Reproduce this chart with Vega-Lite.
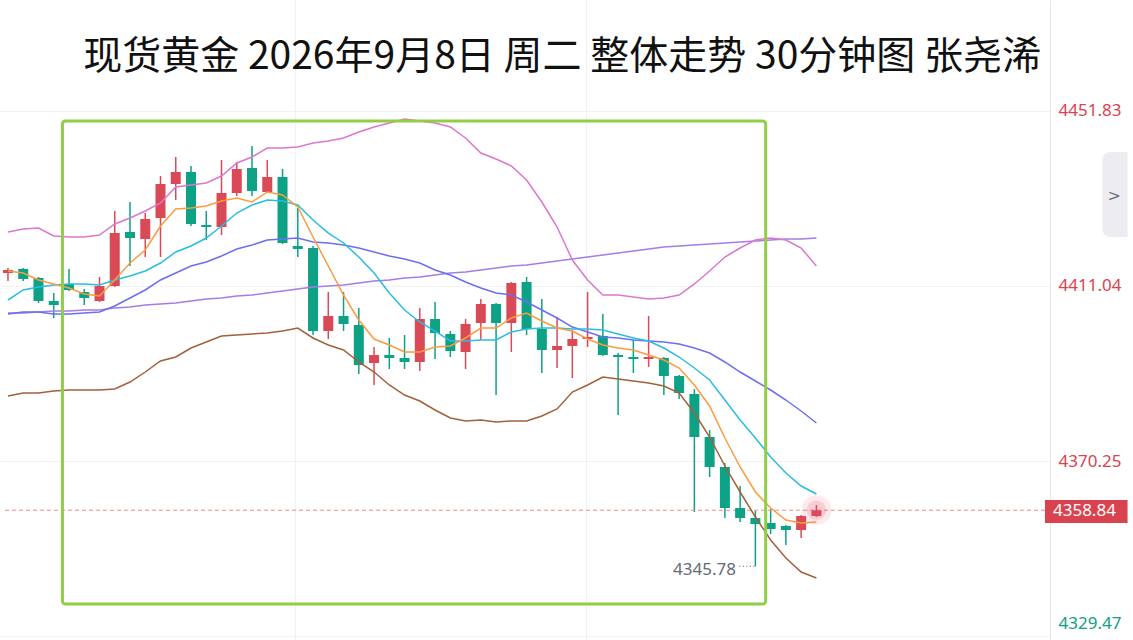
{
  "$schema": "https://vega.github.io/schema/vega-lite/v6.json",
  "width": 1050,
  "height": 640,
  "autosize": {"type": "none"},
  "padding": {"left": 0, "top": 0, "right": 83, "bottom": 0},
  "background": "#ffffff",
  "config": {"view": {"stroke": null}, "axis": {"labelFont": "Noto Sans"}},
  "datasets": {
    "k": [
      {"i":0,"o":4414.06,"h":4415.23,"l":4412.21,"c":4414.76,"m5":4414.53,"m10":4407.78,"m30":4404.52,"m60":4404.75,"up":4423.61,"dn":4385.43},
      {"i":1,"o":4414.99,"h":4415.23,"l":4412.21,"c":4412.67,"m5":4414.06,"m10":4410.11,"m30":4404.99,"m60":4404.75,"up":4424.31,"dn":4386.13},
      {"i":2,"o":4412.90,"h":4413.14,"l":4407.08,"c":4407.55,"m5":4412.44,"m10":4410.81,"m30":4404.99,"m60":4404.99,"up":4424.54,"dn":4386.13},
      {"i":3,"o":4407.55,"h":4409.41,"l":4403.59,"c":4406.62,"m5":4411.51,"m10":4411.27,"m30":4404.52,"m60":4405.22,"up":4422.68,"dn":4386.60},
      {"i":4,"o":4411.51,"h":4414.99,"l":4409.88,"c":4410.11,"m5":4410.58,"m10":4411.51,"m30":4404.52,"m60":4405.22,"up":4422.44,"dn":4386.83},
      {"i":5,"o":4409.64,"h":4410.34,"l":4406.62,"c":4408.24,"m5":4409.18,"m10":4411.51,"m30":4404.75,"m60":4405.45,"up":4422.44,"dn":4386.83},
      {"i":6,"o":4407.55,"h":4413.14,"l":4407.31,"c":4411.04,"m5":4408.71,"m10":4411.27,"m30":4404.99,"m60":4405.45,"up":4422.91,"dn":4386.83},
      {"i":7,"o":4411.04,"h":4428.50,"l":4410.81,"c":4423.37,"m5":4412.44,"m10":4412.44,"m30":4406.38,"m60":4405.92,"up":4425.47,"dn":4387.06},
      {"i":8,"o":4423.61,"h":4430.59,"l":4415.69,"c":4422.21,"m5":4416.39,"m10":4413.37,"m30":4408.24,"m60":4406.15,"up":4426.86,"dn":4388.69},
      {"i":9,"o":4421.98,"h":4428.03,"l":4417.79,"c":4426.63,"m5":4419.42,"m10":4414.53,"m30":4410.11,"m60":4406.62,"up":4428.50,"dn":4391.02},
      {"i":10,"o":4426.86,"h":4436.64,"l":4417.79,"c":4434.78,"m5":4425.00,"m10":4416.39,"m30":4412.44,"m60":4406.85,"up":4430.36,"dn":4393.58},
      {"i":11,"o":4434.78,"h":4441.07,"l":4431.06,"c":4437.57,"m5":4428.96,"m10":4418.95,"m30":4414.06,"m60":4407.08,"up":4434.08,"dn":4394.51},
      {"i":12,"o":4437.57,"h":4438.97,"l":4425.00,"c":4425.47,"m5":4429.19,"m10":4420.35,"m30":4415.69,"m60":4407.55,"up":4434.55,"dn":4396.61},
      {"i":13,"o":4425.24,"h":4428.50,"l":4421.75,"c":4424.77,"m5":4429.66,"m10":4422.21,"m30":4416.62,"m60":4408.01,"up":4435.01,"dn":4398.01},
      {"i":14,"o":4424.77,"h":4440.37,"l":4422.91,"c":4432.68,"m5":4430.82,"m10":4425.00,"m30":4418.02,"m60":4408.24,"up":4436.64,"dn":4399.40},
      {"i":15,"o":4432.68,"h":4439.91,"l":4431.99,"c":4438.27,"m5":4431.52,"m10":4428.03,"m30":4419.65,"m60":4408.71,"up":4439.67,"dn":4399.63},
      {"i":16,"o":4438.50,"h":4443.63,"l":4431.99,"c":4433.15,"m5":4430.59,"m10":4429.89,"m30":4420.58,"m60":4408.94,"up":4441.07,"dn":4399.87},
      {"i":17,"o":4432.92,"h":4440.37,"l":4432.68,"c":4436.41,"m5":4432.92,"m10":4431.06,"m30":4421.75,"m60":4409.41,"up":4443.16,"dn":4400.10},
      {"i":18,"o":4436.41,"h":4438.27,"l":4420.81,"c":4421.05,"m5":4432.22,"m10":4430.82,"m30":4421.98,"m60":4409.88,"up":4443.16,"dn":4400.56},
      {"i":19,"o":4420.35,"h":4429.19,"l":4417.79,"c":4419.65,"m5":4429.42,"m10":4429.89,"m30":4422.21,"m60":4410.34,"up":4443.39,"dn":4401.26},
      {"i":20,"o":4419.88,"h":4420.35,"l":4399.63,"c":4400.56,"m5":4422.44,"m10":4426.40,"m30":4421.28,"m60":4410.81,"up":4444.32,"dn":4398.94},
      {"i":21,"o":4400.56,"h":4409.64,"l":4398.70,"c":4404.06,"m5":4415.69,"m10":4423.37,"m30":4421.05,"m60":4411.04,"up":4444.79,"dn":4397.30},
      {"i":22,"o":4404.06,"h":4409.64,"l":4400.56,"c":4402.19,"m5":4408.94,"m10":4421.05,"m30":4420.58,"m60":4411.27,"up":4445.49,"dn":4396.14},
      {"i":23,"o":4401.96,"h":4405.92,"l":4390.56,"c":4392.65,"m5":4403.13,"m10":4417.79,"m30":4419.88,"m60":4411.74,"up":4446.88,"dn":4393.35},
      {"i":24,"o":4393.11,"h":4396.84,"l":4388.00,"c":4394.98,"m5":4398.70,"m10":4414.06,"m30":4418.95,"m60":4412.21,"up":4448.05,"dn":4391.02},
      {"i":25,"o":4394.98,"h":4398.94,"l":4391.72,"c":4394.28,"m5":4397.30,"m10":4409.41,"m30":4418.02,"m60":4412.44,"up":4448.98,"dn":4388.00},
      {"i":26,"o":4394.28,"h":4399.63,"l":4391.72,"c":4393.35,"m5":4395.67,"m10":4405.45,"m30":4417.32,"m60":4412.90,"up":4449.91,"dn":4385.66},
      {"i":27,"o":4393.35,"h":4405.92,"l":4391.25,"c":4403.36,"m5":4395.67,"m10":4402.66,"m30":4416.39,"m60":4413.14,"up":4449.44,"dn":4384.27},
      {"i":28,"o":4403.36,"h":4407.31,"l":4394.05,"c":4400.10,"m5":4396.84,"m10":4400.56,"m30":4414.76,"m60":4413.60,"up":4448.98,"dn":4382.18},
      {"i":29,"o":4399.87,"h":4400.56,"l":4394.51,"c":4395.91,"m5":4397.08,"m10":4398.24,"m30":4413.60,"m60":4414.06,"up":4448.05,"dn":4380.31},
      {"i":30,"o":4395.67,"h":4403.36,"l":4391.72,"c":4402.19,"m5":4398.94,"m10":4398.24,"m30":4411.97,"m60":4414.30,"up":4445.49,"dn":4379.62},
      {"i":31,"o":4402.43,"h":4408.01,"l":4398.47,"c":4406.85,"m5":4401.26,"m10":4398.47,"m30":4410.58,"m60":4414.76,"up":4442.00,"dn":4379.85},
      {"i":32,"o":4406.85,"h":4407.08,"l":4385.66,"c":4402.43,"m5":4401.26,"m10":4398.47,"m30":4409.41,"m60":4415.23,"up":4440.60,"dn":4379.38},
      {"i":33,"o":4402.43,"h":4411.97,"l":4395.67,"c":4411.74,"m5":4403.59,"m10":4400.33,"m30":4408.94,"m60":4415.69,"up":4438.97,"dn":4379.62},
      {"i":34,"o":4411.97,"h":4413.14,"l":4399.63,"c":4401.03,"m5":4404.75,"m10":4401.03,"m30":4407.31,"m60":4415.93,"up":4435.71,"dn":4379.62},
      {"i":35,"o":4401.03,"h":4408.01,"l":4390.79,"c":4396.14,"m5":4402.89,"m10":4401.26,"m30":4405.45,"m60":4416.39,"up":4430.59,"dn":4380.78},
      {"i":36,"o":4396.14,"h":4403.82,"l":4391.95,"c":4397.08,"m5":4401.26,"m10":4401.26,"m30":4403.59,"m60":4416.86,"up":4424.77,"dn":4382.41},
      {"i":37,"o":4397.08,"h":4400.80,"l":4389.62,"c":4398.70,"m5":4400.56,"m10":4401.03,"m30":4401.49,"m60":4417.32,"up":4417.09,"dn":4386.36},
      {"i":38,"o":4398.70,"h":4409.64,"l":4396.84,"c":4399.17,"m5":4398.70,"m10":4401.03,"m30":4400.33,"m60":4417.79,"up":4412.44,"dn":4388.00},
      {"i":39,"o":4399.40,"h":4404.52,"l":4394.75,"c":4394.98,"m5":4397.30,"m10":4400.80,"m30":4399.17,"m60":4418.25,"up":4408.94,"dn":4389.86},
      {"i":40,"o":4394.98,"h":4395.44,"l":4381.01,"c":4394.51,"m5":4396.61,"m10":4399.87,"m30":4398.94,"m60":4418.72,"up":4408.94,"dn":4389.39},
      {"i":41,"o":4394.51,"h":4398.47,"l":4390.79,"c":4394.05,"m5":4396.14,"m10":4398.94,"m30":4398.47,"m60":4419.19,"up":4408.48,"dn":4388.93},
      {"i":42,"o":4394.05,"h":4404.06,"l":4392.18,"c":4394.51,"m5":4394.98,"m10":4398.24,"m30":4398.24,"m60":4419.65,"up":4408.01,"dn":4388.46},
      {"i":43,"o":4394.28,"h":4394.51,"l":4385.66,"c":4390.09,"m5":4393.82,"m10":4396.61,"m30":4398.01,"m60":4420.12,"up":4408.24,"dn":4387.76},
      {"i":44,"o":4390.09,"h":4390.32,"l":4384.74,"c":4386.13,"m5":4391.95,"m10":4394.51,"m30":4397.54,"m60":4420.35,"up":4408.94,"dn":4386.13},
      {"i":45,"o":4385.90,"h":4387.06,"l":4358.43,"c":4375.89,"m5":4388.00,"m10":4391.95,"m30":4396.61,"m60":4420.58,"up":4411.51,"dn":4381.48},
      {"i":46,"o":4375.89,"h":4377.52,"l":4366.58,"c":4368.91,"m5":4383.11,"m10":4389.16,"m30":4395.44,"m60":4420.81,"up":4414.53,"dn":4375.89},
      {"i":47,"o":4368.91,"h":4369.84,"l":4357.04,"c":4359.36,"m5":4375.66,"m10":4384.50,"m30":4393.35,"m60":4421.05,"up":4417.79,"dn":4369.14},
      {"i":48,"o":4359.36,"h":4364.48,"l":4356.10,"c":4357.04,"m5":4368.91,"m10":4379.85,"m30":4391.02,"m60":4421.28,"up":4419.88,"dn":4363.09},
      {"i":49,"o":4357.04,"h":4358.66,"l":4345.78,"c":4355.64,"m5":4363.09,"m10":4375.66,"m30":4388.93,"m60":4421.51,"up":4421.75,"dn":4357.27},
      {"i":50,"o":4355.87,"h":4359.13,"l":4353.31,"c":4354.48,"m5":4359.36,"m10":4371.24,"m30":4386.83,"m60":4421.75,"up":4422.21,"dn":4351.92},
      {"i":51,"o":4355.17,"h":4355.41,"l":4350.75,"c":4354.25,"m5":4356.57,"m10":4367.51,"m30":4384.50,"m60":4421.98,"up":4421.75,"dn":4347.73},
      {"i":52,"o":4354.25,"h":4357.73,"l":4352.38,"c":4357.50,"m5":4355.87,"m10":4364.48,"m30":4381.94,"m60":4421.98,"up":4419.88,"dn":4344.47},
      {"i":53,"o":4357.50,"h":4360.06,"l":4357.27,"c":4358.84,"m5":4356.10,"m10":4362.62,"m30":4379.15,"m60":4422.21,"up":4415.69,"dn":4343.07}
    ]
  },
  "layer": [
    {
      "data": {"name": "k"},
      "mark": {"type": "rule", "strokeWidth": 1.5},
      "encoding": {
        "x": {"field": "i", "type": "quantitative", "title": null,
              "scale": {"domain": [-0.1948, 67.987], "nice": false, "zero": false},
              "axis": {"values": [18.83, 37.92], "labels": false, "ticks": false, "domain": false, "grid": true, "gridColor": "#f0f1f4", "title": null}},
        "y": {"field": "l", "type": "quantitative", "title": null,
              "scale": {"domain": [4328.64, 4477.61], "nice": false, "zero": false},
              "axis": {"orient": "right", "values": [4451.83, 4411.04, 4370.25, 4329.47], "format": ".2f", "title": null,
                       "ticks": false, "domain": true, "domainColor": "#e6e7ec", "grid": true, "gridColor": "#f0f1f4",
                       "labelFontSize": 17, "labelPadding": 8,
                       "labelColor": {"condition": {"test": "datum.value < 4340", "value": "#10a085"}, "value": "#d9434f"},
                       "labelOffset": {"condition": {"test": "datum.value < 4340", "value": -13}, "value": 0}}},
        "y2": {"field": "h"},
        "color": {"condition": {"test": "datum.c > datum.o", "value": "#da4a56"}, "value": "#0da185"}
      }
    },
    {
      "data": {"values": [{}]},
      "mark": {"type": "rule", "strokeDash": [4, 3], "strokeWidth": 1, "color": "#f08a8a"},
      "encoding": {
        "x": {"datum": -0.1948, "type": "quantitative", "title": null},
        "x2": {"datum": 67.987},
        "y": {"datum": 4358.84, "type": "quantitative", "title": null}
      }
    },
    {
      "data": {"name": "k"},
      "mark": {"type": "bar", "width": 10},
      "encoding": {
        "x": {"field": "i", "type": "quantitative", "title": null},
        "y": {"field": "o", "type": "quantitative", "title": null},
        "y2": {"field": "c"},
        "color": {"condition": {"test": "datum.c > datum.o", "value": "#da4a56"}, "value": "#0da185"}
      }
    },
    {
      "data": {"name": "k"},
      "transform": [{"fold": ["m60", "m30", "up", "dn", "m10", "m5"], "as": ["s", "v"]}],
      "mark": {"type": "line", "strokeWidth": 1.5},
      "encoding": {
        "x": {"field": "i", "type": "quantitative", "title": null},
        "y": {"field": "v", "type": "quantitative", "title": null},
        "color": {"field": "s", "type": "nominal", "legend": null,
                  "scale": {"domain": ["m5", "m10", "m30", "m60", "up", "dn"],
                            "range": ["#fb9b3f", "#29bde2", "#6b6ff0", "#a27ee6", "#dc76cf", "#a3603a"]}},
        "detail": {"field": "s"}
      }
    },
    {
      "data": {"values": [{}]},
      "mark": {"type": "point", "filled": true, "size": 900, "opacity": 0.12, "color": "#e8506a"},
      "encoding": {
        "x": {"datum": 53, "type": "quantitative", "title": null},
        "y": {"datum": 4358.84, "type": "quantitative", "title": null}
      }
    },
    {
      "data": {"values": [{}]},
      "mark": {"type": "point", "filled": true, "size": 380, "opacity": 0.18, "color": "#e8506a"},
      "encoding": {
        "x": {"datum": 53, "type": "quantitative", "title": null},
        "y": {"datum": 4358.84, "type": "quantitative", "title": null}
      }
    },
    {
      "data": {"values": [{}]},
      "mark": {"type": "rect", "fill": null, "stroke": "#8fce45", "strokeWidth": 3, "cornerRadius": 3},
      "encoding": {
        "x": {"datum": 3.571, "type": "quantitative", "title": null},
        "x2": {"datum": 49.675},
        "y": {"datum": 4449.45, "type": "quantitative", "title": null},
        "y2": {"datum": 4337.02}
      }
    },
    {
      "data": {"values": [{}]},
      "mark": {"type": "rule", "strokeDash": [1, 2.5], "strokeWidth": 1.2, "color": "#7b8190"},
      "encoding": {
        "x": {"datum": 47.95, "type": "quantitative", "title": null},
        "x2": {"datum": 48.95},
        "y": {"datum": 4345.78, "type": "quantitative", "title": null}
      }
    },
    {
      "data": {"values": [{}]},
      "mark": {"type": "text", "text": "4345.78", "align": "right", "baseline": "middle", "font": "Noto Sans", "fontSize": 17, "color": "#636a78"},
      "encoding": {
        "x": {"datum": 47.73, "type": "quantitative", "title": null},
        "y": {"datum": 4344.94, "type": "quantitative", "title": null}
      }
    },
    {
      "data": {"values": [{}]},
      "mark": {"type": "text", "text": "现货黄金 2026年9月8日 周二 整体走势 30分钟图 张尧浠", "align": "center", "baseline": "middle", "font": "Noto Sans CJK SC", "fontSize": 39, "color": "#111111"},
      "encoding": {
        "x": {"datum": 36.33, "type": "quantitative", "title": null},
        "y": {"datum": 4464.34, "type": "quantitative", "title": null}
      }
    },
    {
      "data": {"values": [{}]},
      "mark": {"type": "rect", "color": "#d9434f"},
      "encoding": {
        "x": {"datum": 67.987, "type": "quantitative", "title": null},
        "x2": {"datum": 73.4},
        "y": {"datum": 4361.23, "type": "quantitative", "title": null},
        "y2": {"datum": 4355.87}
      }
    },
    {
      "data": {"values": [{}]},
      "mark": {"type": "text", "text": "4358.84", "align": "left", "baseline": "middle", "font": "Noto Sans", "fontSize": 17, "color": "#ffffff"},
      "encoding": {
        "x": {"datum": 68.51, "type": "quantitative", "title": null},
        "y": {"datum": 4358.7, "type": "quantitative", "title": null}
      }
    },
    {
      "data": {"values": [{}]},
      "mark": {"type": "rect", "color": "#ececf1", "cornerRadiusTopLeft": 8, "cornerRadiusBottomLeft": 8},
      "encoding": {
        "x": {"datum": 71.75, "type": "quantitative", "title": null},
        "x2": {"datum": 73.4},
        "y": {"datum": 4442.23, "type": "quantitative", "title": null},
        "y2": {"datum": 4422.45}
      }
    },
    {
      "data": {"values": [{}]},
      "mark": {"type": "text", "text": ">", "align": "center", "baseline": "middle", "font": "DejaVu Sans", "fontSize": 16, "color": "#6f7380"},
      "encoding": {
        "x": {"datum": 72.53, "type": "quantitative", "title": null},
        "y": {"datum": 4431.99, "type": "quantitative", "title": null}
      }
    }
  ]
}
